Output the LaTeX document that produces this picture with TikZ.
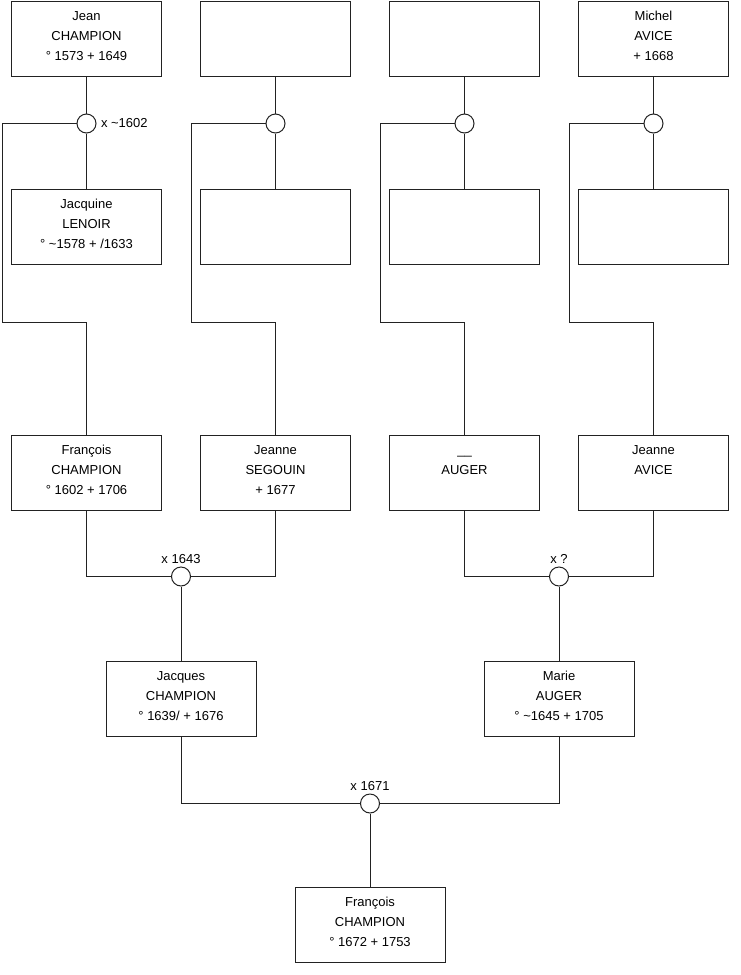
\documentclass[tikz,border=0pt]{standalone}
\usepackage{fontspec}
\setmainfont{Liberation Sans}
\usetikzlibrary{positioning,calc}
\definecolor{treeline}{HTML}{222222}
\newcommand{\tld}{\textasciitilde}

\begin{document}
\begin{tikzpicture}[
  x=1pt, y=-1pt,
  line width=1pt,
  node distance=112pt and 38pt,
  every node/.style={font=\fontsize{13}{20}\selectfont},
  who/.style={draw=treeline, minimum width=150pt, minimum height=75pt, inner sep=0pt,
              label={[anchor=north, align=center, inner sep=0pt, yshift=-10.2pt]north:{#1}}},
  who/.default={},
  wed/.style={circle, draw=treeline, fill=white, minimum size=19pt, inner sep=0pt},
  link/.style={draw=treeline},
  wedtop/.style={label={[inner sep=0pt, label distance=2.5pt]above:#1}}
]
  \useasboundingbox (0,0) rectangle (740,975);

  % great-grandparents
  \node[who={Jean\\CHAMPION\\° 1573 + 1649}] (jean) at (86.5,38.5) {};
  \node[who, right=of jean] (segpere) {};
  \node[who, right=of segpere] (augpere) {};
  \node[who={Michel\\AVICE\\+ 1668}, right=of augpere] (michel) {};

  \node[who={Jacquine\\LENOIR\\° \tld1578 + /1633}, below=of jean] (lenoir) {};
  \node[who, right=of lenoir] (segmere) {};
  \node[who, right=of segmere] (augmere) {};
  \node[who, right=of augmere] (avicemere) {};

  \node[wed, below=37pt of jean,
        label={[inner sep=0pt, label distance=4pt]right:x \tld1602}] (w1) {};
  \node[wed, below=37pt of segpere] (w2) {};
  \node[wed, below=37pt of augpere] (w3) {};
  \node[wed, below=37pt of michel] (w4) {};

  % grandparents
  \node[who={François\\CHAMPION\\° 1602 + 1706}, below=170pt of lenoir] (francois) {};
  \node[who={Jeanne\\SEGOUIN\\+ 1677}, right=of francois] (segouin) {};
  \node[who={\vphantom{J}\_\_\\AUGER}, right=of segouin] (auger) {};
  \node[who={Jeanne\\AVICE}, right=of auger] (avice) {};

  \node[wed, wedtop={x 1643}] (w5) at ($(francois.south)!0.5!(segouin.south)+(0,66)$) {};
  \node[wed, wedtop={x ?}] (w6) at ($(auger.south)!0.5!(avice.south)+(0,66)$) {};

  % parents
  \node[who={Jacques\\CHAMPION\\° 1639/ + 1676}, below=74pt of w5] (jacques) {};
  \node[who={Marie\\AUGER\\° \tld1645 + 1705}, below=74pt of w6] (marie) {};

  \node[wed, wedtop={x 1671}] (w7) at ($(jacques.south)!0.5!(marie.south)+(0,67)$) {};

  \node[who={François\\CHAMPION\\° 1672 + 1753}, below=73pt of w7] (enfant) {};

  \coordinate (r1) at ($(w1)+(-84.5,199)$);
  \coordinate (r2) at ($(w2)+(-84.5,199)$);
  \coordinate (r3) at ($(w3)+(-84.5,199)$);
  \coordinate (r4) at ($(w4)+(-84.5,199)$);

  \draw[link] (jean) -- (w1) -- (lenoir);
  \draw[link] (segpere) -- (w2) -- (segmere);
  \draw[link] (augpere) -- (w3) -- (augmere);
  \draw[link] (michel) -- (w4) -- (avicemere);

  \draw[link] (w1) -| (r1) -| (francois);
  \draw[link] (w2) -| (r2) -| (segouin);
  \draw[link] (w3) -| (r3) -| (auger);
  \draw[link] (w4) -| (r4) -| (avice);

  \draw[link] (francois) |- (w5);
  \draw[link] (segouin) |- (w5);
  \draw[link] (w5) -- (jacques);
  \draw[link] (auger) |- (w6);
  \draw[link] (avice) |- (w6);
  \draw[link] (w6) -- (marie);

  \draw[link] (jacques) |- (w7);
  \draw[link] (marie) |- (w7);
  \draw[link] (w7) -- (enfant);
\end{tikzpicture}
\end{document}
